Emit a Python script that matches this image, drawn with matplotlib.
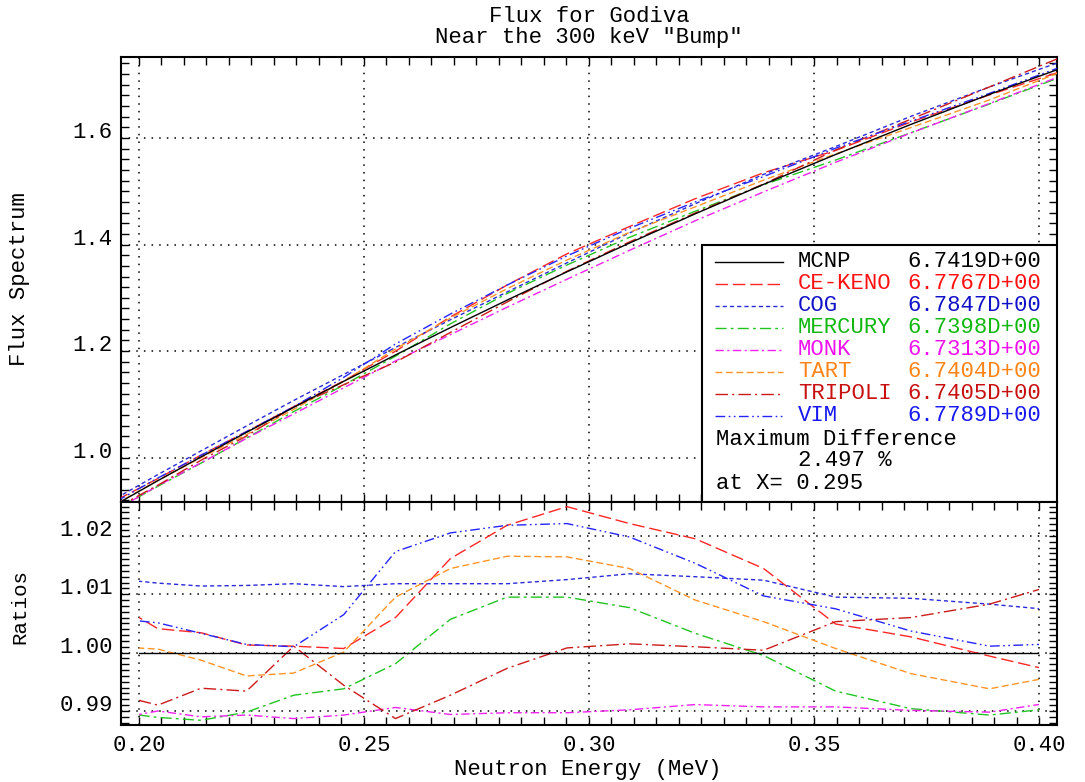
import numpy as np
import matplotlib
matplotlib.use('Agg')
import matplotlib.pyplot as plt
from matplotlib.patches import Rectangle
from matplotlib.lines import Line2D
from matplotlib.ticker import MultipleLocator, FormatStrFormatter

plt.rcParams['font.family'] = ['Liberation Mono', 'DejaVu Sans Mono']

# group mid-point energies (MeV)
energy = [0.1950, 0.2042, 0.2138, 0.2239, 0.2344, 0.2455, 0.2570, 0.2692, 0.2818,
          0.2951, 0.3090, 0.3236, 0.3388, 0.3548, 0.3715, 0.3890, 0.4074]

# MCNP reference flux
mcnp_flux = [0.913, 0.957, 1.0015, 1.0476, 1.0946, 1.1434, 1.1928, 1.2441, 1.2957,
             1.3488, 1.4028, 1.4576, 1.5129, 1.5689, 1.6253, 1.6818, 1.7384]

# flux ratios to MCNP
ratio_mcnp = [1.0] * len(energy)
ratio_keno = [1.0083, 1.0041, 1.0034, 1.0013, 1.0011, 1.0007, 1.0060, 1.0161, 1.0218,
              1.0250, 1.0221, 1.0195, 1.0144, 1.0049, 1.0027, 0.9994, 0.9961]
ratio_cog = [1.0126, 1.0119, 1.0114, 1.0115, 1.0118, 1.0113, 1.0118, 1.0118, 1.0118,
             1.0125, 1.0135, 1.0130, 1.0124, 1.0095, 1.0093, 1.0083, 1.0070]
ratio_mercury = [0.9898, 0.9889, 0.9884, 0.9898, 0.9927, 0.9938, 0.9981, 1.0057, 1.0095,
                 1.0095, 1.0077, 1.0033, 0.9995, 0.9934, 0.9904, 0.9893, 0.9908]
ratio_monk = [0.9887, 0.9900, 0.9890, 0.9893, 0.9887, 0.9893, 0.9906, 0.9894, 0.9897,
              0.9897, 0.9902, 0.9911, 0.9907, 0.9907, 0.9901, 0.9898, 0.9920]
ratio_tart = [1.0010, 1.0006, 0.9987, 0.9960, 0.9965, 1.0001, 1.0095, 1.0144, 1.0165,
              1.0164, 1.0144, 1.0090, 1.0053, 1.0007, 0.9964, 0.9938, 0.9965]
ratio_tripoli = [0.9928, 0.9910, 0.9939, 0.9934, 1.0011, 0.9944, 0.9887, 0.9927, 0.9973,
                 1.0008, 1.0015, 1.0010, 1.0004, 1.0053, 1.0060, 1.0083, 1.0125]
ratio_vim = [1.0058, 1.0051, 1.0033, 1.0014, 1.0010, 1.0065, 1.0173, 1.0205, 1.0218,
             1.0221, 1.0198, 1.0153, 1.0097, 1.0075, 1.0037, 1.0011, 1.0016]

codes = ['MCNP', 'CE-KENO', 'COG', 'MERCURY', 'MONK', 'TART', 'TRIPOLI', 'VIM']
keff = ['6.7419D+00', '6.7767D+00', '6.7847D+00', '6.7398D+00',
        '6.7313D+00', '6.7404D+00', '6.7405D+00', '6.7789D+00']
ratios = [ratio_mcnp, ratio_keno, ratio_cog, ratio_mercury,
          ratio_monk, ratio_tart, ratio_tripoli, ratio_vim]
max_diff = 2.497
max_diff_x = 0.295

colors = ['black', '#ff2626', '#2a2ad8', '#22c422', '#f020f0', '#ff9428', '#cc1a1a', '#2424ff']
text_colors = ['black', '#ff1010', '#1010c8', '#10b810', '#f010f0', '#ff8418', '#c81010', '#1818f0']
styles = ['-',
          (0, (9, 3.5)),
          (0, (3, 2.2)),
          (0, (8, 3, 2, 3)),
          (0, (6, 2.5, 1.5, 2.5)),
          (0, (5, 2.5)),
          (0, (9, 3, 1.5, 3)),
          (0, (7, 2.5, 1.2, 2.5, 1.2, 2.5))]

fs = 16
fig = plt.figure(figsize=(10.85, 7.82), dpi=100)
ax1 = fig.add_axes([0.1115, 0.3581, 0.8627, 0.5691])
ax2 = fig.add_axes([0.1115, 0.0729, 0.8627, 0.2852])

e = np.array(energy)
flux = np.array(mcnp_flux)

for i, code in enumerate(codes):
    r = np.array(ratios[i])
    ax1.plot(e, flux * r, color=colors[i], linestyle=styles[i], lw=1.0, zorder=3 + (i == 0))
    ln, = ax2.plot(e, r, color=colors[i], linestyle=styles[i], lw=1.0, zorder=3 + (i == 0))
    # ratios are only drawn over the 0.2 - 0.4 MeV window
    ln.set_clip_path(Rectangle((0.2, 0.9), 0.2, 0.2, transform=ax2.transData))

grid_style = dict(color='black', linestyle=(0, (1, 4)), linewidth=1.1)
for ax in (ax1, ax2):
    ax.set_xlim(0.196, 0.404)
    ax.xaxis.set_major_locator(MultipleLocator(0.05))
    ax.xaxis.set_minor_locator(MultipleLocator(0.005))
    ax.grid(True, which='major', **grid_style)
    ax.set_axisbelow(True)
    ax.tick_params(which='both', direction='in', top=True, right=True,
                   length=6, width=1, labelsize=fs)
    ax.tick_params(axis='x', pad=7)
    ax.tick_params(axis='y', pad=6)
    for s in ax.spines.values():
        s.set_linewidth(1.5)

ax1.set_ylim(0.917, 1.752)
ax1.yaxis.set_major_locator(MultipleLocator(0.2))
ax1.yaxis.set_minor_locator(MultipleLocator(0.02))
ax1.yaxis.set_major_formatter(FormatStrFormatter('%.1f'))
ax1.tick_params(labelbottom=False)

ax2.set_ylim(0.9876, 1.0258)
ax2.set_yticks([0.99, 1.00, 1.01, 1.02])
ax2.yaxis.set_minor_locator(MultipleLocator(0.001))
ax2.yaxis.set_major_formatter(FormatStrFormatter('%.2f'))
ax2.xaxis.set_major_formatter(FormatStrFormatter('%.2f'))

ax1.set_yticks([1.0, 1.2, 1.4, 1.6])
for ax in (ax1, ax2):
    plt.setp(ax.get_yticklabels(), va='baseline')

# legend box with run totals
ax1.add_patch(Rectangle((0.6207, 0.0), 0.3793, 0.5775, transform=ax1.transAxes,
                        facecolor='white', edgecolor='black', lw=1.5, zorder=10))
for i, code in enumerate(codes):
    y = (502 - (262 + 21.95 * i)) / 445
    ax1.add_line(Line2D([0.6346, 0.7073], [y, y], transform=ax1.transAxes,
                        color=colors[i], linestyle=styles[i], lw=1.0, zorder=11))
    ax1.text(0.7233, y, code, transform=ax1.transAxes, color=text_colors[i],
             fontsize=fs, va='center', ha='left', zorder=11)
    ax1.text(0.8397, y, keff[i], transform=ax1.transAxes, color=text_colors[i],
             fontsize=fs, va='center', ha='left', zorder=11)
ax1.text(0.6357, 0.1393, 'Maximum Difference', transform=ax1.transAxes,
         fontsize=fs, va='center', ha='left', zorder=11)
ax1.text(0.7233, 0.0928, '%.3f %%' % max_diff, transform=ax1.transAxes,
         fontsize=fs, va='center', ha='left', zorder=11)
ax1.text(0.6357, 0.042, 'at X= %.3f' % max_diff_x, transform=ax1.transAxes,
         fontsize=fs, va='center', ha='left', zorder=11)

fig.text(589 / 1085, 1 - 17 / 782, 'Flux for Godiva', ha='center', va='center', fontsize=fs)
fig.text(589 / 1085, 1 - 37 / 782, 'Near the 300 keV "Bump"', ha='center', va='center', fontsize=fs)
fig.text(20 / 1085, 1 - 279.5 / 782, 'Flux Spectrum', rotation=90, ha='center', va='center', fontsize=fs)
fig.text(20 / 1085, 1 - 606 / 782, 'Ratios', rotation=90, ha='center', va='center', fontsize=15)
fig.text(588 / 1085, 1 - 770 / 782, 'Neutron Energy (MeV)', ha='center', va='center', fontsize=fs)

fig.savefig('out.png', dpi=100)
